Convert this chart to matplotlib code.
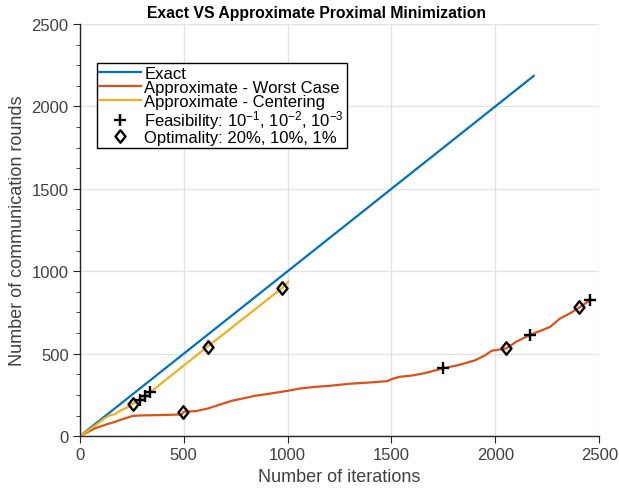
import matplotlib.pyplot as plt
from matplotlib.ticker import MultipleLocator
from matplotlib.path import Path

plt.rcParams['font.family'] = ['Liberation Sans', 'DejaVu Sans']
plt.rcParams['mathtext.default'] = 'regular'

# exact method: one round per iteration
exact_x = [0, 2185]
exact_y = [0, 2185]

# approximate - worst case
wc_x = [0, 30, 72, 120, 169, 210, 255, 300, 345, 400, 448, 490, 500, 560, 617, 670,
        730, 790, 843, 900, 950, 1000, 1060, 1132, 1200, 1300, 1400, 1480, 1510, 1540,
        1600, 1660, 1747, 1820, 1903, 1950, 1983, 2052, 2100, 2168, 2220, 2264, 2312,
        2360, 2405, 2460]
wc_y = [0, 20, 47, 68, 87, 105, 123, 126, 127, 128, 130, 132, 148, 152, 168, 190,
        214, 230, 245, 255, 265, 275, 289, 299, 305, 318, 326, 334, 350, 360,
        368, 382, 411, 430, 460, 490, 518, 532, 572, 615, 640, 663, 714,
        745, 781, 828]

# approximate - centering
c_x = [0, 40, 72, 110, 140, 169, 193, 230, 257, 290, 315, 340, 615, 975, 1003]
c_y = [0, 35, 63, 100, 125, 133, 154, 175, 198, 220, 244, 268, 543, 900, 936]

# markers
feas_x = [290, 315, 340, 1747, 2168, 2457]
feas_y = [220, 244, 268, 411, 615, 825]
opt_x = [257, 615, 975, 498, 2052, 2405]
opt_y = [198, 543, 900, 148, 532, 781]

diamond = Path([(0, 1), (0.8, 0), (0, -1), (-0.8, 0), (0, 1)],
               [Path.MOVETO, Path.LINETO, Path.LINETO, Path.LINETO, Path.CLOSEPOLY])

txt = '#404040'
fig = plt.figure(figsize=(6.19, 4.89), dpi=100)
ax = fig.add_axes([0.129, 0.106, 0.839, 0.843])

ax.plot(exact_x, exact_y, color='#0072BD', lw=1.6, label='Exact')
ax.plot(wc_x, wc_y, color='#D95319', lw=1.6, label='Approximate - Worst Case')
ax.plot(c_x, c_y, color='#EDB120', lw=1.6, label='Approximate - Centering')
ax.plot(feas_x, feas_y, ls='none', marker='+', ms=8, mew=1.7, color='k',
        label='Feasibility: 10$^{-1}$, 10$^{-2}$, 10$^{-3}$')
ax.plot(opt_x, opt_y, ls='none', marker=diamond, ms=9, mew=1.7, mfc='none', mec='k',
        label='Optimality: 20%, 10%, 1%')

ax.set_xlim(0, 2500)
ax.set_ylim(0, 2500)
ax.xaxis.set_major_locator(MultipleLocator(500))
ax.yaxis.set_major_locator(MultipleLocator(500))
ax.yaxis.set_minor_locator(MultipleLocator(125))

for s in ['top', 'right']:
    ax.spines[s].set_visible(False)
for s in ['left', 'bottom']:
    ax.spines[s].set_color('#262626')
    ax.spines[s].set_linewidth(1.0)
ax.tick_params(which='both', direction='out', color='#262626', labelcolor=txt,
               labelsize=12)
ax.tick_params(which='major', length=5, pad=3)
ax.tick_params(which='minor', length=3)
ax.grid(True, which='major', color='#e3e3e3', lw=1.0)
ax.set_axisbelow(True)

ax.set_xlabel('Number of iterations', fontsize=13, color=txt, labelpad=4)
ax.set_ylabel('Number of communication rounds', fontsize=13, color=txt, labelpad=4)
ax.set_title('Exact VS Approximate Proximal Minimization', fontsize=11.3,
             fontweight='bold', x=0.455, pad=5)

leg = ax.legend(loc='upper left', bbox_to_anchor=(0.033, 0.905), fontsize=12,
                frameon=True, fancybox=False, edgecolor='k', framealpha=1,
                handlelength=2.5, handletextpad=0.2, labelspacing=-0.05,
                borderpad=0.15, borderaxespad=0)
leg.get_frame().set_linewidth(1.0)
for t in leg.get_texts():
    t.set_color('k')

fig.savefig('out.png', dpi=100)
